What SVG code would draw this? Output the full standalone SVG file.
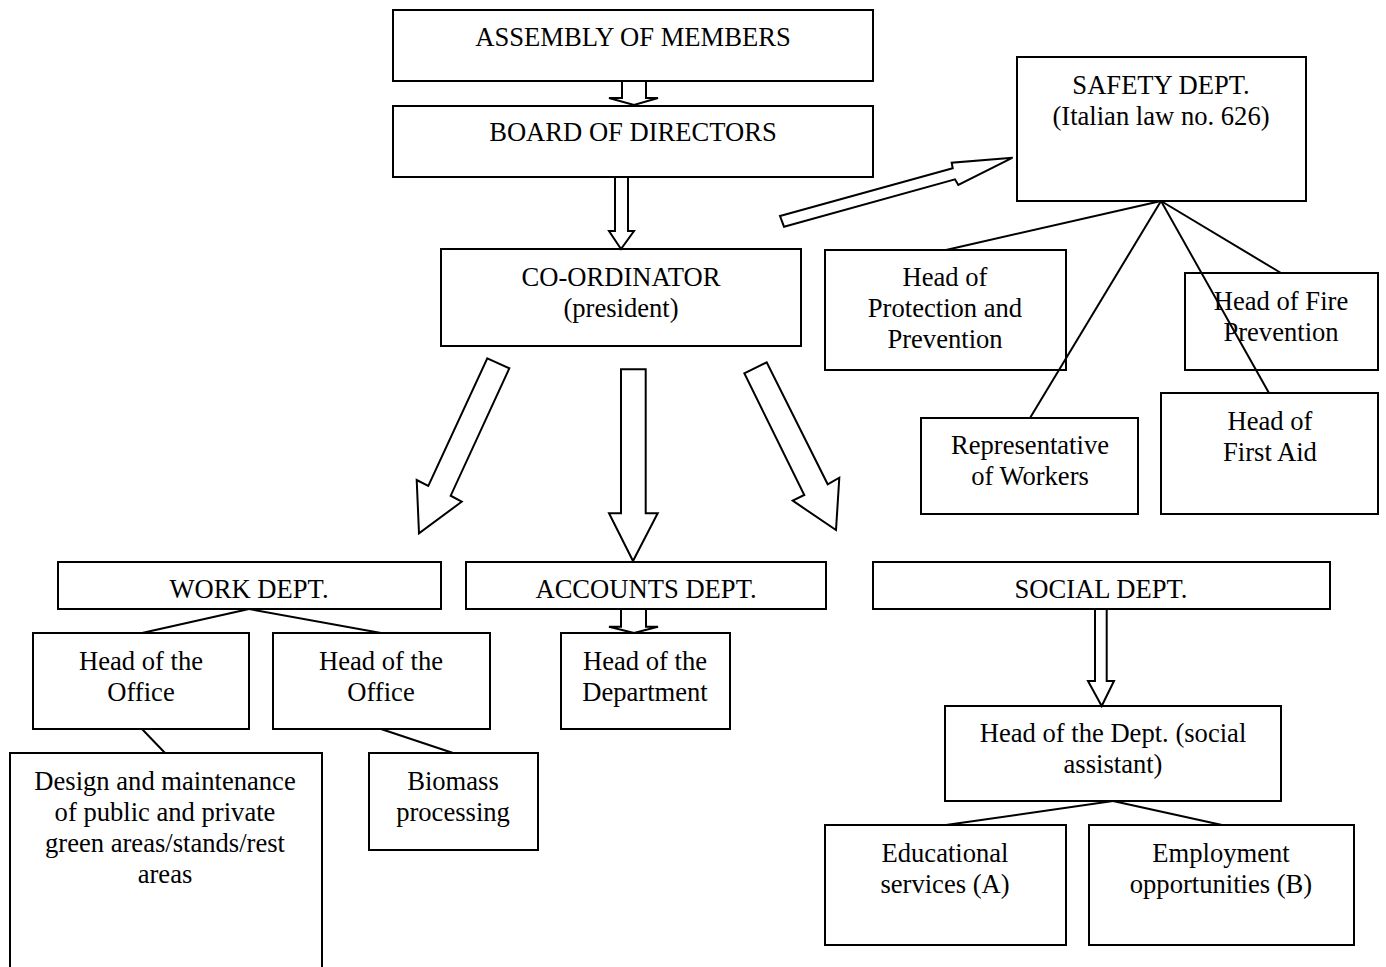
<svg xmlns="http://www.w3.org/2000/svg" width="1386" height="967" viewBox="0 0 1386 967">
<style>
.box{fill:#fff;stroke:#000;stroke-width:2}
.arr{fill:#fff;stroke:#000;stroke-width:2;stroke-linejoin:miter}
.ln{stroke:#000;stroke-width:2;fill:none}
text{font-family:"Liberation Serif","Times New Roman",serif;font-size:26.6px;fill:#000;text-anchor:middle}
</style>
<rect width="1386" height="967" fill="#fff"/>
<g id="assembly"><rect class="box" x="393" y="10" width="480" height="71"/><text x="633" y="46">ASSEMBLY OF MEMBERS</text></g>
<g id="board"><rect class="box" x="393" y="106" width="480" height="71"/><text x="633" y="141">BOARD OF DIRECTORS</text></g>
<g id="safety"><rect class="box" x="1017" y="57" width="289" height="144"/><text x="1161" y="94">SAFETY DEPT.</text><text x="1161" y="125">(Italian law no. 626)</text></g>
<g id="coordinator"><rect class="box" x="441" y="249" width="360" height="97"/><text x="621" y="286">CO-ORDINATOR</text><text x="621" y="317">(president)</text></g>
<g id="protection"><rect class="box" x="825" y="250" width="241" height="120"/><text x="945" y="286">Head of</text><text x="945" y="317">Protection and</text><text x="945" y="348">Prevention</text></g>
<g id="fire"><rect class="box" x="1185" y="273" width="193" height="97"/><text x="1281" y="310">Head of Fire</text><text x="1281" y="341">Prevention</text></g>
<g id="representative"><rect class="box" x="921" y="418" width="217" height="96"/><text x="1030" y="454">Representative</text><text x="1030" y="485">of Workers</text></g>
<g id="firstaid"><rect class="box" x="1161" y="393" width="217" height="121"/><text x="1270" y="430">Head of</text><text x="1270" y="461">First Aid</text></g>
<g id="work"><rect class="box" x="58" y="562" width="383" height="47"/><text x="249" y="598">WORK DEPT.</text></g>
<g id="accounts"><rect class="box" x="466" y="562" width="360" height="47"/><text x="646" y="598">ACCOUNTS DEPT.</text></g>
<g id="social"><rect class="box" x="873" y="562" width="457" height="47"/><text x="1101" y="598">SOCIAL DEPT.</text></g>
<g id="office1"><rect class="box" x="33" y="633" width="216" height="96"/><text x="141" y="670">Head of the</text><text x="141" y="701">Office</text></g>
<g id="office2"><rect class="box" x="273" y="633" width="217" height="96"/><text x="381" y="670">Head of the</text><text x="381" y="701">Office</text></g>
<g id="headdept"><rect class="box" x="561" y="633" width="169" height="96"/><text x="645" y="670">Head of the</text><text x="645" y="701">Department</text></g>
<g id="design"><rect class="box" x="10" y="753" width="312" height="220"/><text x="165" y="790">Design and maintenance</text><text x="165" y="821">of public and private</text><text x="165" y="852">green areas/stands/rest</text><text x="165" y="883">areas</text></g>
<g id="biomass"><rect class="box" x="369" y="753" width="169" height="97"/><text x="453" y="790">Biomass</text><text x="453" y="821">processing</text></g>
<g id="socialhead"><rect class="box" x="945" y="706" width="336" height="95"/><text x="1113" y="742">Head of the Dept. (social</text><text x="1113" y="773">assistant)</text></g>
<g id="educational"><rect class="box" x="825" y="825" width="241" height="120"/><text x="945" y="862">Educational</text><text x="945" y="893">services (A)</text></g>
<g id="employment"><rect class="box" x="1089" y="825" width="265" height="120"/><text x="1221" y="862">Employment</text><text x="1221" y="893">opportunities (B)</text></g>
<g id="connectors">
<polygon class="arr" points="622,81 646,81 646,98 658,98 634,105 609,98 622,98"/>
<polygon class="arr" points="615,177 628,177 628,231 634,231 621,249 609,231 615,231"/>
<polygon class="arr" points="780,216 952.7,168.3 951.7,162.7 1012.7,157.7 958.3,185 955,179.3 784,226.7"/>
<polygon class="arr" points="487.3,358.3 509.3,368.3 450.7,495.7 461.7,501.7 419,533.3 416.7,480 428.3,486"/>
<polygon class="arr" points="621,369.3 645.7,369.3 645.7,513.3 657.7,513.3 633,561 609,513.3 621,513.3"/>
<polygon class="arr" points="744.3,373.3 766.7,362.3 827.7,484.3 839.3,477.7 836,530 792.7,500.7 804.3,495"/>
<polygon class="arr" points="621,609 646,609 646,626.7 658,626.7 634,633 609,626.7 621,626.7"/>
<polygon class="arr" points="1095,609 1106.7,609 1106.7,681 1114,681 1101.7,706 1088,681 1095,681"/>
<line class="ln" x1="1161" y1="201" x2="946" y2="250"/>
<line class="ln" x1="1161" y1="201" x2="1030" y2="418"/>
<line class="ln" x1="1161" y1="201" x2="1269" y2="393"/>
<line class="ln" x1="1161" y1="201" x2="1281" y2="273"/>
<line class="ln" x1="249" y1="609" x2="142" y2="633"/>
<line class="ln" x1="249" y1="609" x2="381" y2="633"/>
<line class="ln" x1="142" y1="729" x2="165" y2="753"/>
<line class="ln" x1="381" y1="729" x2="453" y2="753"/>
<line class="ln" x1="1113" y1="801" x2="946" y2="825"/>
<line class="ln" x1="1113" y1="801" x2="1222" y2="825"/>
</g>
</svg>
